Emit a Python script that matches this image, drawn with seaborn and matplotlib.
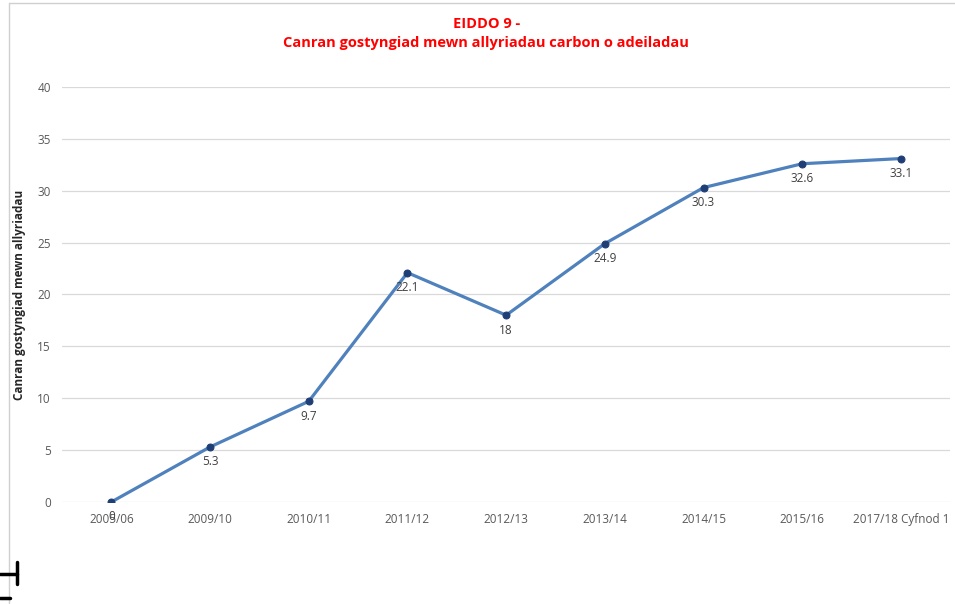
import pandas as pd
import numpy as np
import matplotlib
matplotlib.use('Agg')
import matplotlib.pyplot as plt
import seaborn as sns
from matplotlib.lines import Line2D

# Data
years = ['2005/06', '2009/10', '2010/11', '2011/12', '2012/13', '2013/14',
         '2014/15', '2015/16', '2017/18 Cyfnod 1']
values = [0, 5.3, 9.7, 22.1, 18, 24.9, 30.3, 32.6, 33.1]
labels = ['0', '5.3', '9.7', '22.1', '18', '24.9', '30.3', '32.6', '33.1']

title_text = 'EIDDO 9 -\nCanran gostyngiad mewn allyriadau carbon o adeiladau'
ylabel_text = 'Canran gostyngiad mewn allyriadau'

sns.set_theme(style='white')
plt.rcParams['font.family'] = ['Open Sans', 'DejaVu Sans']

df = pd.DataFrame({'pos': np.arange(len(years)), 'value': values})

fig = plt.figure(figsize=(9.55, 6.04), dpi=100)
ax = fig.add_axes([0.065, 0.169, 0.93, 0.687])

sns.lineplot(data=df, x='pos', y='value', ax=ax, color='#4f81bd', linewidth=2.3,
             marker='o', markersize=5, markerfacecolor='#1f3e76',
             markeredgecolor='#1f3e76', zorder=3)

for x, y, t in zip(df['pos'], df['value'], labels):
    ax.annotate(t, (x, y), xytext=(0, -6), textcoords='offset points',
                ha='center', va='top', fontsize=8.5, color='#404040')

ax.set_xlim(-0.5, len(years) - 0.5)
ax.set_ylim(0, 40)
ax.set_yticks(range(0, 41, 5))
ax.set_xticks(df['pos'])
ax.set_xticklabels(years)
ax.tick_params(axis='both', labelsize=8.5, colors='#595959', length=0, pad=8)
ax.yaxis.grid(True, color='#d9d9d9', linewidth=0.9)
ax.xaxis.grid(False)
for s in ax.spines.values():
    s.set_visible(False)
ax.set_xlabel('')
ax.set_ylabel(ylabel_text, fontsize=8.5, fontweight='bold', color='#262626')
ax.yaxis.set_label_coords(-0.041, 0.5)

fig.text(0.509, 0.972, title_text, ha='center', va='top', color='#ff0000',
         fontsize=10.5, fontweight='bold', linespacing=1.5)

# chart frame edges and corner mark
fig.add_artist(Line2D([0.009, 1.0], [0.995, 0.995], color='#d0d0d0', lw=1))
fig.add_artist(Line2D([0.009, 0.009], [0.0, 0.995], color='#d0d0d0', lw=1))
fig.add_artist(Line2D([0.0, 0.018], [0.05, 0.05], color='black', lw=2.5))
fig.add_artist(Line2D([0.018, 0.018], [0.033, 0.07], color='black', lw=2.5))
fig.add_artist(Line2D([0.0, 0.01], [0.01, 0.01], color='black', lw=2.5))

fig.savefig('out.png', dpi=100)
